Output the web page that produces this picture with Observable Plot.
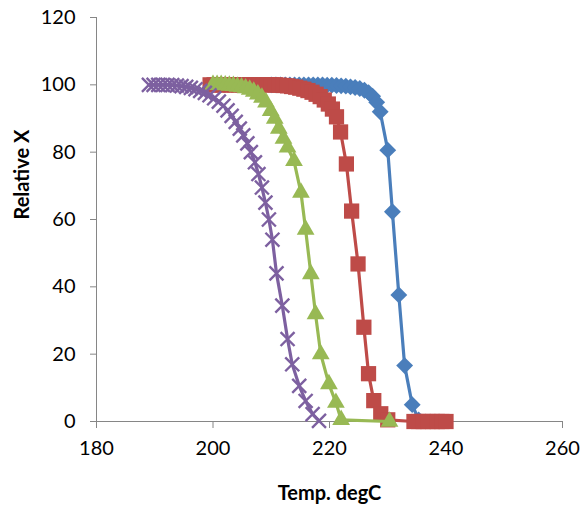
<!DOCTYPE html>
<html>
<head>
<meta charset="utf-8">
<script src="https://cdn.jsdelivr.net/npm/d3@7"></script>
<script src="https://cdn.jsdelivr.net/npm/@observablehq/plot@0.6"></script>
<style>
  html, body { margin: 0; padding: 0; background: #fff; }
  svg { display: block; }
</style>
</head>
<body>
<div id="chart"></div>
<script>
const xTicks = [180, 200, 220, 240, 260];
const yTicks = [0, 20, 40, 60, 80, 100, 120];
const xTitle = "Temp. degC";
const yTitle = "Relative X";

const blueTemp = [210,210.8,211.6,212.4,213.2,214,214.8,215.6,216.4,217.2,218,218.8,219.6,220.4,221.2,222,222.8,223.6,224.4,225.2,226,226.7,227.4,228.1,228.7,230,230.8,231.9,232.9,234.2,235.3];
const blueX = [100,100,100,100,100,100,100,100,100,100,100,100,99.9,99.9,99.8,99.7,99.6,99.4,99.2,98.9,98.4,97.7,96.6,94.8,92,80.6,62.3,37.6,16.6,5,0.5];

const redTemp = [199.5,200.2,200.9,201.6,202.3,203,203.7,204.4,205.1,205.8,206.5,207.2,207.9,208.6,209.3,210,210.7,211.4,212.1,212.8,213.5,214.2,214.9,215.6,216.3,217,217.7,218.4,219.1,219.8,220.5,221.2,221.9,222.9,223.8,224.9,225.9,226.7,227.6,228.8,230,234.5,235.3,236.1,236.9,237.7,238.5,239.3,240];
const redX = [100,100,100,100,100,100,100,100,100,100,100,100,100,100,100,100,100,99.9,99.8,99.7,99.5,99.3,99,98.7,98.3,97.8,97.2,96.5,95.5,94.3,92.8,90.5,86,76.5,62.5,46.8,28,14.2,6.2,2.3,0.5,0,0,0,0,0,0,0,0];

const greenTemp = [200,200.7,201.4,202.1,202.8,203.5,204.2,204.9,205.6,206.3,207,207.7,208.4,209.1,209.9,210.6,211.3,212.1,212.8,213.9,215.1,215.9,216.8,217.6,218.5,219.9,221.1,222,230.3];
const greenX = [100,100,100,99.9,99.8,99.7,99.5,99.3,99,98.6,98,97.2,96.2,94.8,92.3,90,87,84,81.4,77.4,68,57,43.8,31.9,20,11.1,5.6,0.5,0];

const purpleTemp = [189,189.8,190.6,191.4,192.2,193,193.8,194.6,195.4,196.2,197,197.8,198.6,199.4,200.2,201,201.8,202.5,203.2,203.9,204.6,205.2,205.9,206.5,207.2,207.8,208.4,209,209.6,210.2,210.9,211.9,212.8,213.6,214.8,215.9,217.1,218.2];
const purpleX = [100,100,100,100,100,99.9,99.8,99.6,99.4,99.1,98.7,98.2,97.6,96.9,96,95,93.8,92.4,90.8,89,87,85,82.6,80,77,73.5,69.5,65,60,54,44,34.4,24.5,17,10.6,6.1,2.2,0.2];

const toRows = (t, v) => t.map((d, i) => ({temp: d, x: v[i]}));
const series = [
  {rows: toRows(blueTemp, blueX), color: "#4A7EBB", symbol: "diamond2", r: 7.6, filled: true},
  {rows: toRows(redTemp, redX), color: "#BE4B48", symbol: "square", r: 8.6, filled: true},
  {rows: toRows(greenTemp, greenX), color: "#98B954", symbol: "triangle", r: 6.6, filled: true},
  {rows: toRows(purpleTemp, purpleX), color: "#7D60A0", symbol: "times", r: 6.4, filled: false}
];

const marks = [
  Plot.ruleX([180], {y1: 0, y2: 120, stroke: "#868686", strokeWidth: 1}),
  Plot.ruleY([0], {x1: 180, x2: 260, stroke: "#868686", strokeWidth: 1}),
  Plot.axisY({ticks: yTicks, tickSize: 6, tickPadding: 15, stroke: "#868686", fill: "#000", label: null, tickFormat: d => d}),
  Plot.axisX({ticks: xTicks, tickSize: 7, tickPadding: 12, stroke: "#868686", fill: "#000", label: null, tickFormat: d => d})
];
for (const s of series) {
  marks.push(Plot.line(s.rows, {x: "temp", y: "x", stroke: s.color, strokeWidth: 3.2}));
  if (s.filled) {
    marks.push(Plot.dot(s.rows, {x: "temp", y: "x", symbol: s.symbol, r: s.r, fill: s.color, stroke: "none"}));
  } else {
    marks.push(Plot.dot(s.rows, {x: "temp", y: "x", symbol: s.symbol, r: s.r, fill: "none", stroke: s.color, strokeWidth: 2.4}));
  }
}
marks.push(Plot.text([xTitle], {frameAnchor: "bottom", dy: 72, text: d => d, fontWeight: "bold", fontSize: 20, fill: "#000", lineAnchor: "middle"}));
marks.push(Plot.text([yTitle], {frameAnchor: "left", dx: -74, text: d => d, fontWeight: "bold", fontSize: 20, fill: "#000", rotate: -90, lineAnchor: "middle"}));

const chart = Plot.plot({
  width: 582,
  height: 507,
  marginLeft: 96,
  marginRight: 20,
  marginTop: 17,
  marginBottom: 86,
  style: {fontFamily: "Lato, 'Open Sans', sans-serif", fontSize: "20px", background: "#fff", color: "#000"},
  x: {domain: [180, 260]},
  y: {domain: [0, 120]},
  marks
});
document.getElementById("chart").appendChild(chart);
</script>
</body>
</html>
